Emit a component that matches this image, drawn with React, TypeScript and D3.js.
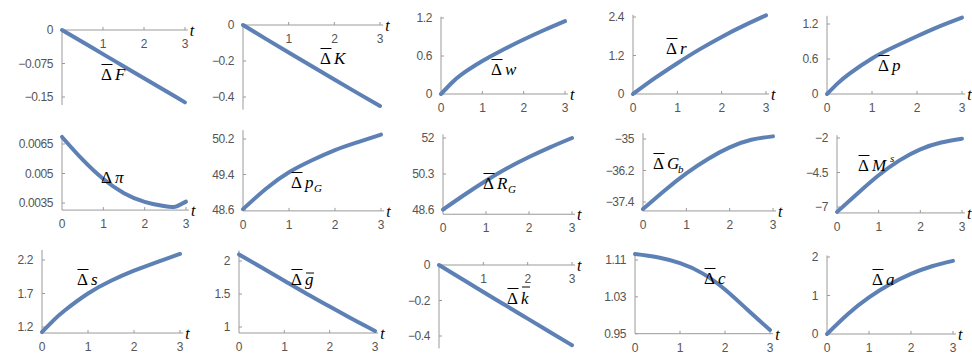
import * as d3 from 'd3';

// time grids (t): most panels use half steps; steep-start curves get a quarter point,
// Δπ gets one extra point near its minimum
const T = [0, 0.5, 1, 1.5, 2, 2.5, 3];
const T_Q = [0, 0.25, 0.5, 1, 1.5, 2, 2.5, 3];
const T_PI = [0, 0.5, 1, 1.5, 2, 2.5, 2.75, 3];

// series
const dF = [0, -0.027, -0.054, -0.081, -0.108, -0.135, -0.162];
const dK = [0, -0.077, -0.153, -0.228, -0.303, -0.377, -0.45];
const dW = [0, 0.17, 0.31, 0.52, 0.7, 0.86, 1.01, 1.15];
const dR = [0, 0.5, 0.96, 1.39, 1.78, 2.13, 2.45];
const dP = [0, 0.19, 0.35, 0.61, 0.81, 0.99, 1.16, 1.31];
const dPi = [0.00686, 0.0057, 0.00472, 0.004, 0.00356, 0.00333, 0.00332, 0.00357];
const dPG = [48.62, 49.08, 49.45, 49.72, 49.95, 50.13, 50.3];
const dRG = [48.62, 49.32, 49.98, 50.58, 51.1, 51.57, 52.0];
const dGb = [-37.67, -36.96, -36.31, -35.76, -35.32, -35.03, -34.9];
const dMs = [-7.36, -6.0, -4.7, -3.62, -2.82, -2.33, -2.05];
const dS = [1.125, 1.3, 1.45, 1.7, 1.89, 2.04, 2.17, 2.29];
const dG = [2.1, 1.9, 1.7, 1.5, 1.31, 1.12, 0.94];
const dKbar = [0, -0.076, -0.152, -0.227, -0.302, -0.377, -0.452];
const dC = [1.123, 1.116, 1.103, 1.081, 1.046, 1.002, 0.958];
const dA = [0, 0.52, 0.95, 1.29, 1.56, 1.76, 1.9];

// tick values + printed labels
const xTicksAll = [0, 1, 2, 3];
const xTicksTop = [1, 2, 3];
const yTicksF = [0, -0.075, -0.15];
const yLabF = ['0', '−0.075', '−0.15'];
const yTicksK = [0, -0.2, -0.4];
const yLabK = ['0', '−0.2', '−0.4'];
const yTicksW = [0, 0.6, 1.2];
const yLabW = ['0', '0.6', '1.2'];
const yTicksR = [0, 1.2, 2.4];
const yLabR = ['0', '1.2', '2.4'];
const yTicksPi = [0.0065, 0.005, 0.0035];
const yLabPi = ['0.0065', '0.005', '0.0035'];
const yTicksPG = [50.2, 49.4, 48.6];
const yLabPG = ['50.2', '49.4', '48.6'];
const yTicksRG = [52, 50.3, 48.6];
const yLabRG = ['52', '50.3', '48.6'];
const yTicksGb = [-35, -36.2, -37.4];
const yLabGb = ['−35', '−36.2', '−37.4'];
const yTicksMs = [-2, -4.5, -7];
const yLabMs = ['−2', '−4.5', '−7'];
const yTicksS = [2.2, 1.7, 1.2];
const yLabS = ['2.2', '1.7', '1.2'];
const yTicksG = [2, 1.5, 1];
const yLabG = ['2', '1.5', '1'];
const yTicksC = [1.11, 1.03, 0.95];
const yLabC = ['1.11', '1.03', '0.95'];
const yTicksA = [2, 1, 0];
const yLabA = ['2', '1', '0'];

const BLUE = '#5E81B5';
const AXIS = '#9a9a9a';
const TICKTXT = '#555';
const SERIF = '"Liberation Serif", "Times New Roman", serif';
const SANS = '"Liberation Sans", Arial, sans-serif';

type Lab = { v: string; bar?: boolean; varBar?: boolean; sub?: string; sup?: string };

type P = {
  t: number[]; d: number[];
  xt: number[]; yt: number[]; yl: string[];
  lo: number; hi: number;
  x0: number; x3: number;          // pixel of t=0 and t=3
  ya: number; yb: number;          // pixel of first / last y tick
  lab: Lab; lx: number; ly: number;
};

const panels: P[] = [
  { t: T, d: dF, xt: xTicksTop, yt: yTicksF, yl: yLabF, lo: -0.168, hi: 0.002, x0: 62, x3: 185, ya: 30, yb: 97, lab: { v: 'F', bar: true }, lx: 101, ly: 80 },
  { t: T, d: dK, xt: xTicksTop, yt: yTicksK, yl: yLabK, lo: -0.47, hi: 0.003, x0: 243, x3: 380, ya: 25, yb: 97, lab: { v: 'K', bar: true }, lx: 320, ly: 64 },
  { t: T_Q, d: dW, xt: xTicksAll, yt: yTicksW, yl: yLabW, lo: 0, hi: 1.22, x0: 441, x3: 565, ya: 94, yb: 18, lab: { v: 'w', bar: true }, lx: 491, ly: 75 },
  { t: T, d: dR, xt: xTicksAll, yt: yTicksR, yl: yLabR, lo: 0, hi: 2.47, x0: 633, x3: 766, ya: 94, yb: 17, lab: { v: 'r', bar: true }, lx: 666, ly: 54 },
  { t: T_Q, d: dP, xt: xTicksAll, yt: yTicksW, yl: yLabW, lo: 0, hi: 1.34, x0: 827, x3: 962, ya: 94, yb: 24, lab: { v: 'p', bar: true }, lx: 878, ly: 71 },

  { t: T_PI, d: dPi, xt: xTicksAll, yt: yTicksPi, yl: yLabPi, lo: 0.00314, hi: 0.00696, x0: 62, x3: 186, ya: 144, yb: 203, lab: { v: 'π' }, lx: 101, ly: 183 },
  { t: T, d: dPG, xt: xTicksAll, yt: yTicksPG, yl: yLabPG, lo: 48.58, hi: 50.4, x0: 243, x3: 381, ya: 139, yb: 210, lab: { v: 'p', bar: true, sub: 'G' }, lx: 291, ly: 188 },
  { t: T, d: dRG, xt: xTicksAll, yt: yTicksRG, yl: yLabRG, lo: 48.4, hi: 52.17, x0: 443, x3: 572, ya: 138, yb: 210, lab: { v: 'R', bar: true, sub: 'G' }, lx: 483, ly: 189 },
  { t: T, d: dGb, xt: xTicksAll, yt: yTicksGb, yl: yLabGb, lo: -37.74, hi: -34.78, x0: 643, x3: 773, ya: 139, yb: 202, lab: { v: 'G', bar: true, sub: 'b' }, lx: 653, ly: 169 },
  { t: T, d: dMs, xt: xTicksAll, yt: yTicksMs, yl: yLabMs, lo: -7.43, hi: -1.8, x0: 837, x3: 962, ya: 138, yb: 207, lab: { v: 'M', bar: true, sup: 's' }, lx: 858, ly: 171 },

  { t: T_Q, d: dS, xt: xTicksAll, yt: yTicksS, yl: yLabS, lo: 1.11, hi: 2.35, x0: 42, x3: 180, ya: 260, yb: 327, lab: { v: 's', bar: true }, lx: 77, ly: 285 },
  { t: T, d: dG, xt: xTicksAll, yt: yTicksG, yl: yLabG, lo: 0.909, hi: 2.16, x0: 239, x3: 375, ya: 261, yb: 327, lab: { v: 'g', bar: true, varBar: true }, lx: 291, ly: 285 },
  { t: T, d: dKbar, xt: xTicksTop, yt: yTicksK, yl: yLabK, lo: -0.47, hi: 0.003, x0: 439, x3: 572, ya: 265, yb: 336, lab: { v: 'k', bar: true, varBar: true }, lx: 507, ly: 304 },
  { t: T, d: dC, xt: xTicksAll, yt: yTicksC, yl: yLabC, lo: 0.95, hi: 1.127, x0: 635, x3: 770, ya: 260, yb: 333.7, lab: { v: 'c', bar: true }, lx: 704, ly: 284 },
  { t: T, d: dA, xt: xTicksAll, yt: yTicksA, yl: yLabA, lo: 0, hi: 2.04, x0: 827, x3: 953, ya: 257, yb: 334, lab: { v: 'a', bar: true }, lx: 872, ly: 285 },
];

function CurveLabel({ lab, x, y }: { lab: Lab; x: number; y: number }) {
  const vx = x + 14;
  const tall = /[A-Zk]/.test(lab.v);
  return (
    <g fill="#000" fontFamily={SERIF}>
      <text x={x} y={y} fontSize={17}>Δ</text>
      {lab.bar && <line x1={x + 0.5} x2={x + 11.5} y1={y - 15.5} y2={y - 15.5} stroke="#000" strokeWidth={1} />}
      <text x={vx} y={y} fontSize={17} fontStyle="italic">{lab.v}</text>
      {lab.varBar && (
        <line x1={vx + 1} x2={vx + 9} y1={y - (tall ? 17 : 12)} y2={y - (tall ? 17 : 12)} stroke="#000" strokeWidth={1} />
      )}
      {lab.sub && <text x={vx + (lab.v === 'p' ? 9 : 11)} y={y + 4} fontSize={11} fontStyle="italic">{lab.sub}</text>}
      {lab.sup && <text x={vx + 18} y={y - 9} fontSize={11} fontStyle="italic">{lab.sup}</text>}
    </g>
  );
}

function Panel({ p }: { p: P }) {
  const x = d3.scaleLinear().domain([0, 3]).range([p.x0, p.x3]);
  const y = d3.scaleLinear()
    .domain([p.yt[0], p.yt[p.yt.length - 1]])
    .range([p.ya, p.yb]);
  const axisY = p.lo <= 0 && p.hi >= 0 ? y(0) : y(p.lo);
  const xEnd = x(3.07);
  const line = d3.line<number>()
    .x((_, i) => x(p.t[i]))
    .y(d => y(d))
    .curve(d3.curveNatural);

  return (
    <g>
      {/* axes */}
      <line x1={x(0)} x2={xEnd} y1={axisY} y2={axisY} stroke={AXIS} strokeWidth={1} />
      <line x1={x(0)} x2={x(0)} y1={y(p.lo)} y2={y(p.hi)} stroke={AXIS} strokeWidth={1} />
      {p.xt.filter(v => v > 0).map(v => (
        <line key={'xt' + v} x1={x(v)} x2={x(v)} y1={axisY} y2={axisY - 3} stroke={AXIS} />
      ))}
      {p.yt.map(v => (
        <line key={'yt' + v} x1={x(0)} x2={x(0) + 3} y1={y(v)} y2={y(v)} stroke={AXIS} />
      ))}
      <g fontFamily={SANS} fontSize={12} fill={TICKTXT} letterSpacing={-0.4}>
        {p.xt.map(v => (
          <text key={'xl' + v} x={x(v)} y={axisY + 18} textAnchor="middle">{v}</text>
        ))}
        {p.yt.map((v, i) => (
          <text key={'yl' + v} x={x(0) - 9} y={y(v) + 4} textAnchor="end">{p.yl[i]}</text>
        ))}
      </g>
      <text x={xEnd + 2} y={axisY + 6} fontFamily={SERIF} fontStyle="italic" fontSize={16} fill="#000">t</text>
      {/* curve */}
      <path d={line(p.d) ?? ''} fill="none" stroke={BLUE} strokeWidth={4} strokeLinecap="round" strokeLinejoin="round" />
      <CurveLabel lab={p.lab} x={p.lx} y={p.ly} />
    </g>
  );
}

export default function App() {
  return (
    <div style={{ position: 'absolute', left: 0, top: 0 }}>
      <svg width={972} height={355} style={{ display: 'block', background: '#fff' }}>
        {panels.map((p, i) => <Panel key={i} p={p} />)}
      </svg>
    </div>
  );
}
